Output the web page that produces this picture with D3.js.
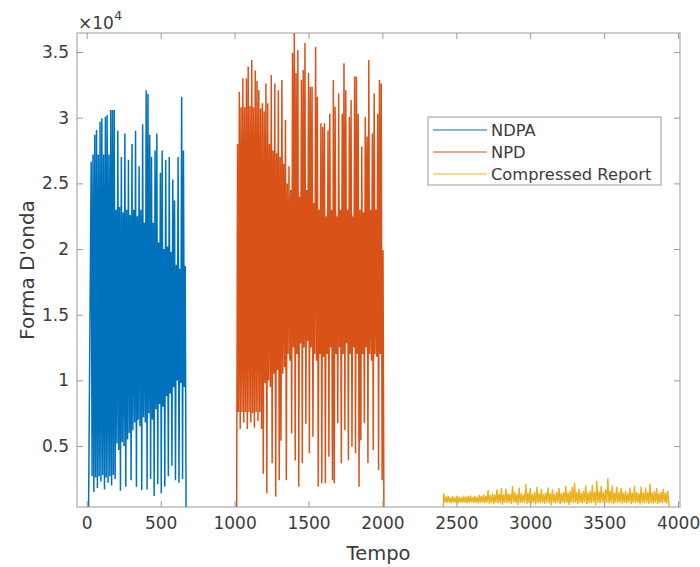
<!DOCTYPE html>
<html>
<head>
<meta charset="utf-8">
<script src="https://cdn.jsdelivr.net/npm/d3@7"></script>
<style>
  html, body { margin: 0; padding: 0; background: #fff; }
  svg text { font-family: "DejaVu Sans", sans-serif; fill: #3c3c3c; }
</style>
</head>
<body>
<div id="chart"></div>
<script>
// ---- data ----
const seriesNames = ["NDPA", "NPD", "Compressed Report"];
const seriesColors = ["#0072BD", "#D95319", "#EDB120"];

const xTicks = [0, 500, 1000, 1500, 2000, 2500, 3000, 3500, 4000];
const yTicks = [5000, 10000, 15000, 20000, 25000, 30000, 35000];
const yTickLabels = ["0.5", "1", "1.5", "2", "2.5", "3", "3.5"];

// NDPA: peaks / troughs every 12 samples from t=30
const ndpaStart = 30, ndpaStep = 12;
const ndpaLead = [[12, 0]];
const ndpaHigh = [26650, 27200, 28700, 29060, 27200, 29700, 29950, 27200, 30080, 30200,
  27200, 30590, 30590, 30590, 23000, 29000, 23200, 27000, 22800, 28800,
  23000, 26800, 22600, 28000, 23000, 29000, 22500, 26300, 23000, 29500,
  22000, 32100, 31800, 28700, 27000, 22000, 27500, 28800, 20500, 25800,
  27500, 20000, 26800, 20200, 27000, 19800, 25300, 23700, 18800, 27000,
  18500, 31600, 27500, 18700];
const ndpaLow = [2700, 1500, 2600, 1800, 2700, 2300, 2800, 1700, 2600, 2200,
  2700, 2000, 2800, 2500, 5200, 4700, 1600, 5300, 5000, 1900,
  5500, 6000, 2400, 6200, 6800, 1900, 7000, 6500, 1650, 7200,
  6800, 1700, 7500, 2500, 7000, 1200, 7800, 2100, 8200, 1400,
  8000, 1900, 8800, 2700, 9000, 3500, 9500, 2400, 10000, 2200,
  9800, 2500, 9500, 0];
const ndpaTrail = [];

// NPD: every 12 samples from t=1020
const npdStart = 1020, npdStep = 12;
const npdLead = [[1014, 0]];
const npdHigh = [28000, 31980, 30800, 33000, 30800, 33000, 33900, 30900, 34400, 30800,
  33600, 32800, 32100, 30700, 31100, 30500, 32600, 31100, 28000, 33250,
  27500, 32600, 27300, 32100, 27000, 32870, 26500, 29830, 25000, 26300,
  24500, 34920, 36450, 33400, 35150, 24000, 32870, 33630, 35680, 24500,
  33400, 32360, 32360, 23500, 35400, 31600, 23000, 29570, 29300, 29570,
  22500, 29050, 30300, 23000, 32870, 30840, 22500, 31850, 23000, 30300,
  34150, 32100, 23000, 30050, 31350, 22500, 33130, 33130, 30300, 23000,
  27800, 22800, 30050, 28560, 34400, 23000, 28800, 31850, 23000, 30300,
  32870, 32600];
const npdLow = [7600, 6300, 7600, 6800, 7600, 6300, 7600, 6800, 7500, 6400,
  7600, 6900, 7600, 6300, 2900, 9800, 1400, 10000, 9500, 3700,
  10500, 1150, 10800, 2400, 5400, 10500, 11000, 2400, 12000, 11500,
  5950, 12500, 3900, 12000, 1900, 12800, 3700, 12500, 6700, 13000,
  4450, 12500, 5700, 12000, 11500, 1900, 12000, 2160, 11800, 2160,
  12000, 4190, 12500, 2400, 2160, 12000, 6730, 12500, 3700, 12000,
  6220, 12800, 3920, 12000, 4950, 12500, 4450, 12000, 1900, 5440,
  12000, 6730, 12500, 3700, 12000, 11500, 4700, 12000, 11800, 3180,
  12000, 2400];
const npdTrail = [[2004, 19900], [2010, 0]];

// Compressed Report: every 15 samples from t=2415
const crStart = 2415, crStep = 15;
const crLead = [[2410, 0]];
const crHigh = [1400, 1150, 1200, 1100, 1180, 1120, 1200, 1150, 1100, 1220,
  1150, 1180, 1250, 1120, 1200, 1150, 1280, 1180, 1300, 1200,
  1650, 1250, 1400, 1300, 1700, 1350, 1800, 1300, 1750, 1400,
  1350, 1950, 1500, 1350, 1850, 1400, 1300, 2100, 1450, 1800,
  1350, 1500, 1900, 1400, 1750, 1350, 1450, 1850, 1400, 1700,
  1350, 1500, 1800, 1400, 1500, 1950, 1450, 1600, 1900, 2200,
  1500, 1750, 1450, 1600, 2000, 1450, 1550, 2050, 1500, 2350,
  1550, 1950, 1500, 1700, 2550, 1600, 2000, 1450, 1900, 1500,
  1800, 1450, 1600, 1400, 1850, 1450, 1950, 1500, 1400, 1900,
  1450, 1850, 1500, 2150, 1450, 1550, 1800, 1400, 1500, 1750,
  1450, 1600];
const crLow = [720, 680, 700, 650, 720, 690, 660, 710, 680, 700,
  650, 690, 720, 670, 700, 640, 690, 710, 660, 700,
  620, 690, 560, 700, 650, 680, 540, 700, 660, 690,
  600, 700, 650, 520, 690, 670, 700, 580, 680, 650,
  700, 560, 680, 650, 700, 600, 690, 640, 500, 700,
  660, 690, 580, 700, 650, 680, 520, 690, 660, 700,
  600, 680, 650, 700, 560, 690, 660, 700, 480, 680,
  650, 700, 600, 690, 640, 700, 560, 680, 660, 700,
  620, 690, 650, 700, 580, 680, 660, 700, 540, 690,
  650, 700, 600, 680, 640, 700, 580, 690, 660, 700,
  620, 680];
const crTrail = [[3942, 0]];

// ---- layout ----
const W = 700, H = 567;
const plot = { left: 77, right: 680, top: 33, bottom: 507 };

const svg = d3.select("#chart").append("svg")
  .attr("width", W).attr("height", H);

const x = d3.scaleLinear().domain([-66, 4013]).range([plot.left, plot.right]);
const y = d3.scaleLinear().domain([360, 36450]).range([plot.bottom, plot.top]);

svg.append("defs").append("clipPath").attr("id", "clip")
  .append("rect")
  .attr("x", plot.left).attr("y", plot.top)
  .attr("width", plot.right - plot.left).attr("height", plot.bottom - plot.top);

function buildPoints(start, step, high, low, lead, trail) {
  const pts = lead.map(d => ({ t: d[0], v: d[1] }));
  high.forEach((h, i) => {
    const t = start + step * i;
    pts.push({ t: t, v: h });
    pts.push({ t: t + step / 2, v: low[i] });
  });
  trail.forEach(d => pts.push({ t: d[0], v: d[1] }));
  return pts;
}

const series = [
  buildPoints(ndpaStart, ndpaStep, ndpaHigh, ndpaLow, ndpaLead, ndpaTrail),
  buildPoints(npdStart, npdStep, npdHigh, npdLow, npdLead, npdTrail),
  buildPoints(crStart, crStep, crHigh, crLow, crLead, crTrail)
];
const lineWidths = [1.5, 1.5, 1.4];

const line = d3.line().x(d => x(d.t)).y(d => y(d.v));

svg.append("g").attr("clip-path", "url(#clip)")
  .selectAll("path").data(series).join("path")
  .attr("d", line)
  .attr("fill", "none")
  .attr("stroke", (d, i) => seriesColors[i])
  .attr("stroke-width", (d, i) => lineWidths[i])
  .attr("stroke-linejoin", "miter")
  .attr("stroke-miterlimit", 2);

// ---- axes (MATLAB style box, ticks inside) ----
const axisColor = "#9a9a9a";
const tickLen = 6;

const gx = svg.append("g").attr("transform", `translate(0,${plot.bottom})`)
  .call(d3.axisBottom(x).tickValues(xTicks).tickSize(-tickLen).tickPadding(10)
    .tickFormat(d3.format("d")));
const gxTop = svg.append("g").attr("transform", `translate(0,${plot.top})`)
  .call(d3.axisTop(x).tickValues(xTicks).tickSize(-tickLen).tickFormat(""));
const gy = svg.append("g").attr("transform", `translate(${plot.left},0)`)
  .call(d3.axisLeft(y).tickValues(yTicks).tickSize(-tickLen).tickPadding(8)
    .tickFormat((d, i) => yTickLabels[i]));
const gyRight = svg.append("g").attr("transform", `translate(${plot.right},0)`)
  .call(d3.axisRight(y).tickValues(yTicks).tickSize(-tickLen).tickFormat(""));

[gx, gxTop, gy, gyRight].forEach(g => {
  g.select(".domain").remove();
  g.selectAll(".tick line").attr("stroke", axisColor);
  g.selectAll(".tick text").attr("font-size", 17).attr("font-family", null).attr("fill", "#3c3c3c");
});

svg.append("rect")
  .attr("x", plot.left).attr("y", plot.top)
  .attr("width", plot.right - plot.left).attr("height", plot.bottom - plot.top)
  .attr("fill", "none").attr("stroke", axisColor).attr("stroke-width", 1);

// exponent
const expo = svg.append("text").attr("x", plot.left + 1).attr("y", 29).attr("font-size", 17);
expo.append("tspan").text("\u00d710");
expo.append("tspan").attr("dy", -9).attr("font-size", 13).text("4");

// axis labels
svg.append("text")
  .attr("x", (plot.left + plot.right) / 2).attr("y", 560)
  .attr("text-anchor", "middle").attr("font-size", 19.5)
  .text("Tempo");
svg.append("text")
  .attr("transform", `translate(34,${(plot.top + plot.bottom) / 2}) rotate(-90)`)
  .attr("text-anchor", "middle").attr("font-size", 20)
  .text("Forma D'onda");

// ---- legend ----
const leg = { x: 428, y: 117, w: 233, h: 68, row: 22 };
const lg = svg.append("g");
lg.append("rect")
  .attr("x", leg.x).attr("y", leg.y).attr("width", leg.w).attr("height", leg.h)
  .attr("fill", "#fff").attr("stroke", axisColor);
const items = lg.selectAll("g.item").data(seriesNames).join("g")
  .attr("class", "item")
  .attr("transform", (d, i) => `translate(${leg.x},${leg.y + 13 + i * leg.row})`);
items.append("line")
  .attr("x1", 5).attr("x2", 59).attr("y1", 0).attr("y2", 0)
  .attr("stroke", (d, i) => seriesColors[i]).attr("stroke-width", 1);
items.append("text")
  .attr("x", 63).attr("y", 0).attr("dy", "0.35em")
  .attr("font-size", 16.3)
  .text(d => d);
</script>
</body>
</html>
